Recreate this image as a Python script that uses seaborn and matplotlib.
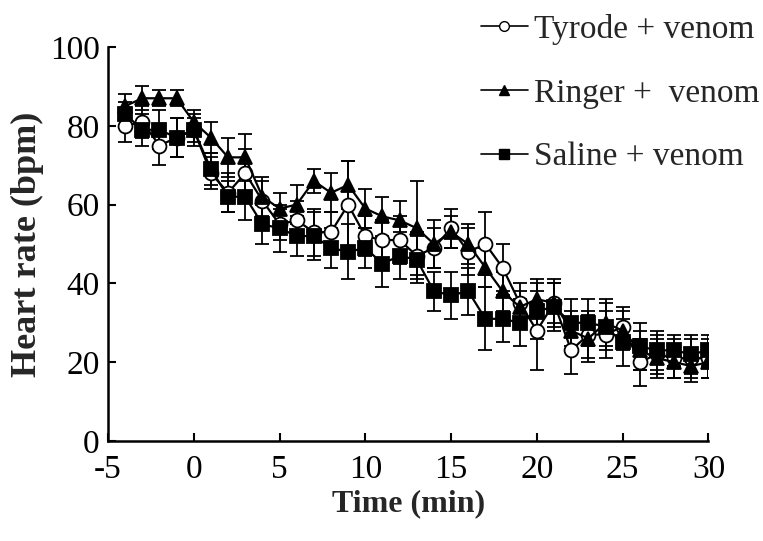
import numpy as np
import pandas as pd
import matplotlib
matplotlib.use("Agg")
import matplotlib.pyplot as plt
import seaborn as sns
from matplotlib.lines import Line2D

time = list(range(-4, 31))

tyrode = [80, 81, 75, 77, 79, 68, 63, 68, 61, 55, 56, 53, 53, 60, 52, 51, 51, 47, 49, 54,
          48, 50, 44, 35, 28, 35, 23, 27, 27, 29, 20, 22, 21, 21, 21]
tyrode_err = [4, 4, 5, 5, 4, 4, 5, 6, 5, 4, 5, 6, 5, 11, 5, 5, 6, 6, 5, 5,
              6, 8, 6, 5, 10, 6, 6, 6, 6, 5, 6, 5, 5, 5, 5]

ringer = [85, 87, 87, 87, 81, 77, 72, 72, 62, 59, 60, 66, 63, 65, 59, 57, 56, 54, 50, 53,
          50, 44, 38, 34, 36, 35, 28, 26, 30, 28, 23, 21, 20, 19, 20]
ringer_err = [3, 3, 2, 2, 3, 4, 5, 6, 5, 4, 5, 3, 5, 6, 5, 5, 5, 12, 6, 4,
              5, 5, 5, 4, 5, 5, 5, 6, 6, 5, 5, 5, 4, 4, 4]

saline = [83, 79, 79, 77, 79, 69, 62, 62, 55, 54, 52, 52, 49, 48, 49, 45, 47, 46, 38, 37,
          38, 31, 31, 30, 33, 34, 30, 30, 29, 25, 24, 23, 23, 22, 23]
saline_err = [3, 4, 5, 5, 3, 4, 4, 6, 5, 6, 5, 6, 5, 7, 5, 6, 6, 6, 5, 6,
              6, 8, 6, 6, 7, 6, 6, 6, 6, 6, 6, 5, 4, 5, 4]

labels = ["Tyrode + venom", "Ringer +  venom", "Saline + venom"]
x_ticks = [-5, 0, 5, 10, 15, 20, 25, 30]
y_ticks = [0, 20, 40, 60, 80, 100]

sns.set_theme(style="ticks")
plt.rcParams["font.family"] = ["Liberation Serif", "DejaVu Serif"]

fig = plt.figure(figsize=(7.63, 5.41), dpi=100)
ax = fig.add_axes([0.1415, 0.185, 0.787, 0.728])

series = [
    (tyrode, tyrode_err, "o", "white"),
    (ringer, ringer_err, "^", "black"),
    (saline, saline_err, "s", "black"),
]

for (vals, errs, mk, fc), lab in zip(series, labels):
    df = pd.DataFrame({"time": time, "hr": vals})
    ax.errorbar(time, vals, yerr=errs, fmt="none", ecolor="black",
                elinewidth=1.3, capsize=5, capthick=1.3, zorder=2)
    sns.lineplot(data=df, x="time", y="hr", ax=ax, color="black", lw=1.6,
                 marker=mk, markersize=10, markerfacecolor=fc,
                 markeredgecolor="black", markeredgewidth=1.3, zorder=3,
                 legend=False)

ax.set_xlim(-5, 30)
ax.set_ylim(0, 100)
ax.set_xticks(x_ticks)
ax.set_yticks(y_ticks)
ax.set_xticklabels([str(v) for v in x_ticks])
ax.set_yticklabels([str(v) for v in y_ticks])
ax.tick_params(direction="in", length=6, width=1.5, labelsize=24, colors="black")
ax.tick_params(axis="x", pad=10)
ax.tick_params(axis="y", pad=6)
for s in ["top", "right"]:
    ax.spines[s].set_visible(False)
for s in ["left", "bottom"]:
    ax.spines[s].set_linewidth(1.8)
    ax.spines[s].set_color("black")

ax.set_xlabel("Time (min)", fontsize=23, fontweight="bold", labelpad=3)
ax.set_ylabel("Heart rate (bpm)", fontsize=26, fontweight="bold", labelpad=4)

handles = [
    Line2D([], [], color="black", lw=1.2, marker="o", markersize=7,
           markerfacecolor="white", markeredgecolor="black"),
    Line2D([], [], color="black", lw=1.2, marker="^", markersize=7,
           markerfacecolor="black", markeredgecolor="black"),
    Line2D([], [], color="black", lw=1.2, marker="s", markersize=7,
           markerfacecolor="black", markeredgecolor="black"),
]
fig.legend(handles, labels, loc="upper right", bbox_to_anchor=(1.035, 1.03),
           frameon=False, fontsize=24, handlelength=1.4, handletextpad=0.2,
           labelspacing=1.0)

fig.savefig("out.png", dpi=100)
